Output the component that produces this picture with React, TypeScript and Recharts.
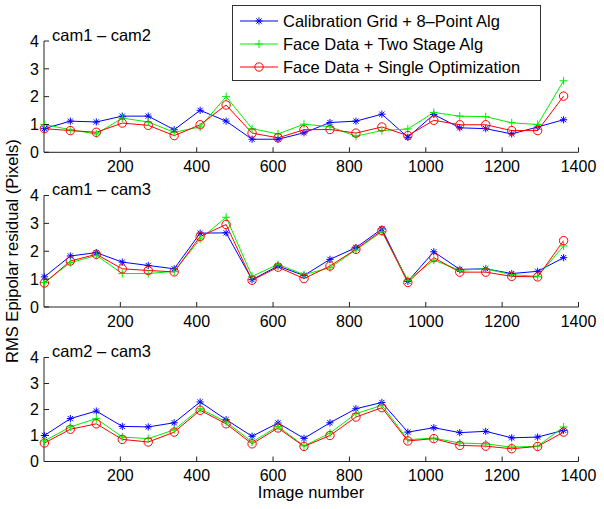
import React from "react";
import { LineChart, Line, XAxis, YAxis } from "recharts";

// image index of each sample
const imageNumbers = [1, 69, 137, 205, 273, 341, 409, 477, 545, 613, 681, 749, 817, 885, 953, 1021, 1089, 1157, 1225, 1293, 1361];

const xTicks = [200, 400, 600, 800, 1000, 1200, 1400];
const yTicks = [0, 1, 2, 3, 4];

// cam1 - cam2
const gridCam12 = [0.85, 1.12, 1.09, 1.3, 1.3, 0.81, 1.51, 1.12, 0.47, 0.47, 0.7, 1.07, 1.12, 1.37, 0.54, 1.36, 0.88, 0.85, 0.66, 0.91, 1.17];
const twoStageCam12 = [1.0, 0.81, 0.66, 1.23, 1.09, 0.72, 0.91, 2.0, 0.85, 0.66, 1.01, 0.92, 0.58, 0.78, 0.84, 1.43, 1.3, 1.28, 1.06, 1.0, 2.57];
const singleOptCam12 = [0.85, 0.78, 0.72, 1.05, 0.97, 0.6, 0.99, 1.7, 0.69, 0.52, 0.81, 0.82, 0.69, 0.91, 0.6, 1.15, 0.99, 0.99, 0.78, 0.78, 2.02];

// cam1 - cam3
const gridCam13 = [1.08, 1.83, 1.95, 1.61, 1.49, 1.37, 2.65, 2.66, 0.98, 1.47, 1.13, 1.71, 2.13, 2.8, 0.92, 1.98, 1.35, 1.37, 1.2, 1.28, 1.77];
const twoStageCam13 = [0.88, 1.59, 1.85, 1.2, 1.2, 1.28, 2.44, 3.22, 1.1, 1.53, 1.16, 1.41, 2.05, 2.7, 0.96, 1.68, 1.32, 1.37, 1.16, 1.1, 2.19];
const singleOptCam13 = [0.86, 1.65, 1.89, 1.37, 1.31, 1.26, 2.53, 2.96, 0.96, 1.43, 1.02, 1.47, 2.07, 2.74, 0.88, 1.77, 1.25, 1.25, 1.1, 1.08, 2.38];

// cam2 - cam3
const gridCam23 = [1.0, 1.65, 1.94, 1.35, 1.33, 1.49, 2.29, 1.61, 0.97, 1.48, 0.89, 1.49, 2.03, 2.27, 1.13, 1.3, 1.11, 1.16, 0.91, 0.94, 1.2];
const twoStageCam23 = [0.79, 1.33, 1.65, 0.94, 0.88, 1.22, 2.03, 1.52, 0.75, 1.35, 0.6, 1.09, 1.84, 2.16, 0.84, 0.9, 0.71, 0.68, 0.55, 0.59, 1.33];
const singleOptCam23 = [0.71, 1.24, 1.45, 0.85, 0.75, 1.13, 1.97, 1.45, 0.68, 1.29, 0.58, 1.0, 1.71, 2.07, 0.79, 0.88, 0.62, 0.59, 0.49, 0.58, 1.13];

const seriesNames = ["Calibration Grid + 8\u2013Point Alg", "Face Data + Two Stage Alg", "Face Data + Single Optimization"];
const seriesColors = ["#0000ff", "#00ee00", "#ff0000"];
const seriesMarkers = ["star", "plus", "circle"];

const FONT = "'Liberation Sans', Arial, Helvetica, sans-serif";
const AXIS = "#222";

function Marker({ kind, cx, cy, color }: { kind: string; cx: number; cy: number; color: string }) {
  if (cx == null || cy == null) return null;
  if (kind === "circle") {
    return <circle cx={cx} cy={cy} r={4.2} fill="none" stroke={color} strokeWidth={1} />;
  }
  const r = kind === "star" ? 3.6 : 4;
  const d = r * 0.72;
  return (
    <g stroke={color} strokeWidth={1}>
      <line x1={cx - r} y1={cy} x2={cx + r} y2={cy} />
      <line x1={cx} y1={cy - r} x2={cx} y2={cy + r} />
      {kind === "star" && <line x1={cx - d} y1={cy - d} x2={cx + d} y2={cy + d} />}
      {kind === "star" && <line x1={cx - d} y1={cy + d} x2={cx + d} y2={cy - d} />}
    </g>
  );
}

const YTick = (props: any) => {
  const { x, y, payload } = props;
  const ax = x + 5;
  return (
    <g>
      <line x1={ax} y1={y} x2={ax + 5} y2={y} stroke={AXIS} />
      <text x={x} y={y} dy="0.36em" textAnchor="end" fontSize={16} fontFamily={FONT} fill="#000">
        {payload.value}
      </text>
    </g>
  );
};

const XTick = (props: any) => {
  const { x, y, payload } = props;
  const ay = y - 8;
  return (
    <g>
      <line x1={x} y1={ay} x2={x} y2={ay - 5} stroke={AXIS} />
      <text x={x} y={y} dy="0.72em" textAnchor="middle" fontSize={16} fontFamily={FONT} fill="#000">
        {payload.value}
      </text>
    </g>
  );
};

const panels = [
  { title: "cam1 \u2013 cam2", series: [gridCam12, twoStageCam12, singleOptCam12], top: 0, height: 176, marginTop: 41, xAxisHeight: 23.7 },
  { title: "cam1 \u2013 cam3", series: [gridCam13, twoStageCam13, singleOptCam13], top: 154, height: 176, marginTop: 41.5, xAxisHeight: 23 },
  { title: "cam2 \u2013 cam3", series: [gridCam23, twoStageCam23, singleOptCam23], top: 316, height: 170, marginTop: 41.5, xAxisHeight: 24.5 },
];

function Panel({ title, series, top, height, marginTop, xAxisHeight }: (typeof panels)[number]) {
  const data = imageNumbers.map((x, i) => ({ x, s0: series[0][i], s1: series[1][i], s2: series[2][i] }));
  return (
    <div style={{ position: "absolute", left: 0, top, width: 604, height }}>
      <LineChart width={604} height={height} data={data} margin={{ top: marginTop, right: 25.5, bottom: 0, left: 0 }} style={{ overflow: "visible" }}>
        <XAxis
          type="number"
          dataKey="x"
          domain={[0, 1400]}
          ticks={xTicks}
          tickSize={0}
          tickMargin={8}
          height={xAxisHeight}
          axisLine={{ stroke: AXIS }}
          tickLine={false}
          tick={<XTick />}
          interval={0}
        />
        <YAxis
          type="number"
          domain={[0, 4]}
          ticks={yTicks}
          width={44}
          tickSize={0}
          tickMargin={5}
          axisLine={{ stroke: AXIS }}
          tickLine={false}
          tick={<YTick />}
          interval={0}
        />
        {[0, 1, 2].map((k) => (
          <Line
            key={k}
            type="linear"
            dataKey={`s${k}`}
            stroke={seriesColors[k]}
            strokeWidth={1}
            isAnimationActive={false}
            activeDot={false}
            dot={(p: any) => <Marker key={`m${k}-${p.index}`} kind={seriesMarkers[k]} cx={p.cx} cy={p.cy} color={seriesColors[k]} />}
          />
        ))}
      </LineChart>
      <div
        style={{
          position: "absolute",
          left: 52,
          top: marginTop - 14.5,
          fontFamily: FONT,
          fontSize: 16.5,
          lineHeight: "16.5px",
          whiteSpace: "nowrap",
        }}
      >
        {title}
      </div>
    </div>
  );
}

function LegendBox() {
  return (
    <svg width={310} height={77} style={{ position: "absolute", left: 232, top: 5 }}>
      <rect x={0.5} y={0.5} width={308} height={75} fill="#fff" stroke="#333" strokeWidth={1} />
      {seriesNames.map((name, k) => {
        const cy = 16 + k * 23;
        return (
          <g key={name}>
            <line x1={8} y1={cy} x2={46} y2={cy} stroke={seriesColors[k]} strokeWidth={1} />
            <Marker kind={seriesMarkers[k]} cx={27} cy={cy} color={seriesColors[k]} />
            <text x={51} y={cy} dy="0.36em" fontSize={16.5} fontFamily={FONT} fill="#000">
              {name}
            </text>
          </g>
        );
      })}
    </svg>
  );
}

export default function App() {
  return (
    <div style={{ position: "absolute", left: 0, top: 0, width: 604, height: 509, background: "#fff", overflow: "hidden" }}>
      {panels.map((p) => (
        <Panel key={p.title} {...p} />
      ))}
      <LegendBox />
      <div
        style={{
          position: "absolute",
          left: 12,
          top: 251,
          transform: "translate(-50%, -50%) rotate(-90deg)",
          fontFamily: FONT,
          fontSize: 16.5,
          whiteSpace: "nowrap",
        }}
      >
        RMS Epipolar residual (Pixels)
      </div>
      <div
        style={{
          position: "absolute",
          left: 311,
          top: 492,
          transform: "translate(-50%, -50%)",
          fontFamily: FONT,
          fontSize: 16.5,
          whiteSpace: "nowrap",
        }}
      >
        Image number
      </div>
    </div>
  );
}
